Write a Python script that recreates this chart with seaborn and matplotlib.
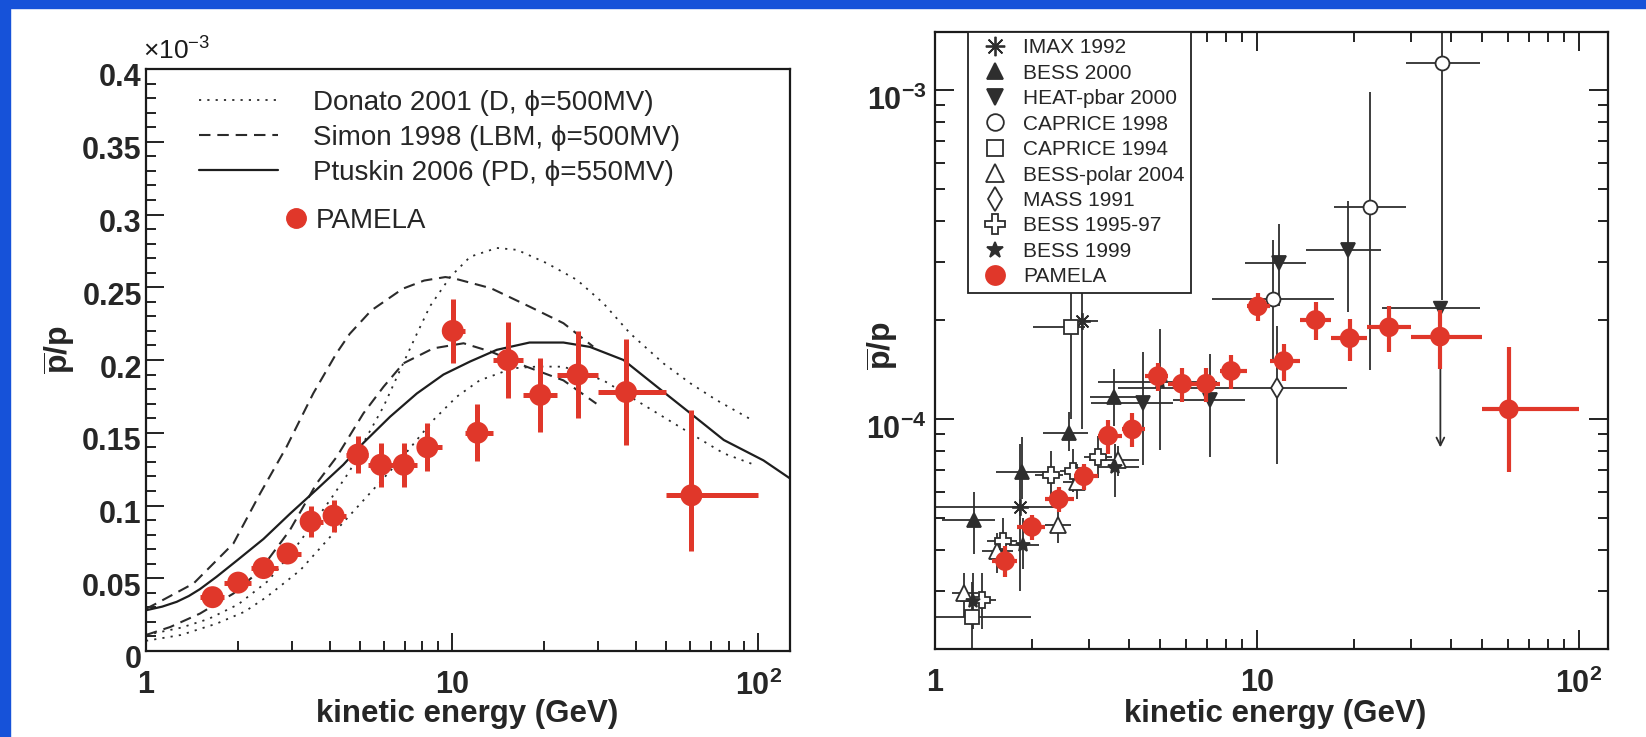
import numpy as np
import matplotlib
matplotlib.use('Agg')
import matplotlib.pyplot as plt
import seaborn as sns
from matplotlib.lines import Line2D
from matplotlib.patches import Rectangle
from matplotlib.transforms import ScaledTranslation
from matplotlib.ticker import FixedLocator, FixedFormatter, LogLocator, NullFormatter

# ---------------- data ----------------
# PAMELA pbar/p, energies in GeV, ratio in units of 1e-3
pam_E = [1.65, 2.0, 2.42, 2.9, 3.45, 4.1, 4.92, 5.85, 6.95, 8.3, 10.05, 12.1, 15.2, 19.4, 25.7, 37.0, 60.5]
pam_ratio = [0.037, 0.047, 0.057, 0.067, 0.089, 0.093, 0.135, 0.128, 0.128, 0.140, 0.220, 0.150, 0.200, 0.176, 0.190, 0.178, 0.107]
pam_err_up = [0.004, 0.004, 0.005, 0.006, 0.0105, 0.011, 0.013, 0.015, 0.015, 0.0165, 0.022, 0.0195, 0.026, 0.0255, 0.030, 0.0365, 0.0585]
pam_err_lo = [0.004, 0.004, 0.005, 0.006, 0.0105, 0.011, 0.013, 0.015, 0.015, 0.0165, 0.022, 0.0195, 0.026, 0.0255, 0.030, 0.0365, 0.038]
pam_bin_lo = [1.5, 1.8, 2.2, 2.7, 3.2, 3.8, 4.5, 5.3, 6.4, 7.7, 9.3, 11.0, 13.6, 17.0, 22.0, 30.0, 50.0]
pam_bin_hi = [1.8, 2.2, 2.7, 3.2, 3.8, 4.5, 5.3, 6.4, 7.7, 9.3, 11.0, 13.6, 17.0, 22.0, 30.0, 50.0, 100.0]

# model curves (x1e-3)
ptuskin_E = [1.0, 1.13, 1.26, 1.38, 1.5, 1.7, 1.99, 2.42, 2.96, 3.61, 4.41, 5.13, 6.27, 7.67, 9.37, 11.46, 14.0, 17.9, 23.1, 28.2, 36.3, 46.7, 60.1, 77.2, 104.0, 127.0]
ptuskin_r = [0.028, 0.0305, 0.0338, 0.0378, 0.0425, 0.051, 0.0625, 0.077, 0.0945, 0.111, 0.128, 0.143, 0.161, 0.177, 0.190, 0.199, 0.207, 0.212, 0.212, 0.209, 0.200, 0.1816, 0.1633, 0.145, 0.131, 0.1186]

donato_hi_E = [1.0, 1.3, 1.6, 2.0, 2.5, 3.0, 3.5, 4.0, 4.64, 5.13, 5.97, 6.76, 7.67, 8.47, 9.85, 11.46, 14.0, 16.3, 20.4, 25.6, 31.2, 38.1, 49.0, 60.0, 73.0, 95.5]
donato_hi_r = [0.011, 0.016, 0.022, 0.032, 0.048, 0.068, 0.087, 0.104, 0.124, 0.143, 0.168, 0.193, 0.218, 0.237, 0.257, 0.271, 0.277, 0.2757, 0.2665, 0.255, 0.239, 0.2184, 0.1977, 0.184, 0.1725, 0.1587]
donato_lo_E = [1.0, 1.3, 1.7, 2.1, 2.48, 3.19, 4.09, 5.26, 6.76, 8.68, 10.36, 12.3, 15.8, 19.0, 23.1, 31.2, 43.1, 60.0, 77.2, 97.7]
donato_lo_r = [0.007, 0.011, 0.0188, 0.027, 0.0372, 0.0555, 0.0808, 0.106, 0.1312, 0.1587, 0.1748, 0.186, 0.1943, 0.1955, 0.1954, 0.186, 0.168, 0.1496, 0.1358, 0.1278]

simon_hi_E = [1.0, 1.08, 1.43, 1.93, 2.36, 2.88, 3.52, 4.19, 4.63, 5.44, 6.9, 8.1, 9.5, 10.1, 13.4, 17.9, 23.1, 28.9]
simon_hi_r = [0.029, 0.0326, 0.0464, 0.0739, 0.1083, 0.1404, 0.1771, 0.2046, 0.218, 0.234, 0.249, 0.2546, 0.257, 0.2562, 0.2493, 0.2367, 0.2253, 0.2092]
simon_lo_E = [1.0, 1.2, 1.5, 1.93, 2.36, 2.95, 3.61, 4.2, 5.13, 5.97, 6.93, 8.68, 10.9, 13.4, 17.5, 23.1, 29.6]
simon_lo_r = [0.011, 0.0165, 0.0257, 0.0395, 0.0555, 0.083, 0.1152, 0.1335, 0.1633, 0.1816, 0.1977, 0.208, 0.2115, 0.2057, 0.1954, 0.186, 0.170]

# other experiments (absolute ratio)
imax_E = [1.83, 2.855]
imax_r = [5.4e-5, 1.99e-4]
imax_Elo, imax_Ehi = [0.9, 2.55], [2.41, 3.2]
imax_rlo, imax_rhi = [3.0e-5, 0.93e-4], [8.4e-5, 3.4e-4]

bess00_E = [1.325, 1.86, 2.61, 3.6]
bess00_r = [4.94e-5, 6.92e-5, 9.05e-5, 1.169e-4]
bess00_Elo, bess00_Ehi = [1.05, 1.55, 2.17, 3.03], [1.54, 2.25, 2.99, 4.28]
bess00_rlo, bess00_rhi = [3.9e-5, 5.7e-5, 8.0e-5, 9.5e-5], [6.0e-5, 8.8e-5, 1.05e-4, 1.42e-4]

heat_E = [4.43, 7.14, 11.66, 19.2]
heat_r = [1.116e-4, 1.14e-4, 2.97e-4, 3.26e-4]
heat_Elo, heat_Ehi = [3.06, 5.5, 9.18, 14.2], [5.5, 9.2, 14.2, 24.3]
heat_rlo, heat_rhi = [0.725e-4, 0.768e-4, 2.2e-4, 2.12e-4], [1.6e-4, 1.58e-4, 3.92e-4, 4.6e-4]
heat_lim_E, heat_lim_r = [37.1], [2.17e-4]
heat_lim_Elo, heat_lim_Ehi, heat_lim_end = [24.4], [49.4], [0.82e-4]

caprice98_E = [11.2, 22.4, 37.6]
caprice98_r = [2.32e-4, 4.4e-4, 1.21e-3]
caprice98_Elo, caprice98_Ehi = [7.23, 17.3, 29.0], [17.3, 29.0, 49.4]
caprice98_rlo, caprice98_rhi = [1.5e-4, 1.41e-4, 2.3e-4], [3.5e-4, 9.84e-4, 2.5e-3]

caprice94_E = [1.30, 2.64]
caprice94_r = [2.51e-5, 1.906e-4]
caprice94_Elo, caprice94_Ehi = [0.9, 2.02], [1.99, 2.92]
caprice94_rlo, caprice94_rhi = [1.9e-5, 1.0e-4], [3.2e-5, 3.5e-4]

bpolar_E = [1.233, 1.555, 2.41, 2.76, 3.71]
bpolar_r = [2.96e-5, 3.96e-5, 4.77e-5, 6.45e-5, 7.51e-5]
bpolar_Elo, bpolar_Ehi = [1.13, 1.4, 2.2, 2.5, 3.0], [1.36, 1.75, 2.65, 3.05, 4.3]
bpolar_rlo, bpolar_rhi = [2.5e-5, 3.4e-5, 4.2e-5, 5.7e-5, 6.7e-5], [3.4e-5, 4.5e-5, 5.3e-5, 7.3e-5, 8.3e-5]

mass_E, mass_r = [11.5], [1.24e-4]
mass_Elo, mass_Ehi = [3.7], [19.0]
mass_rlo, mass_rhi = [0.73e-4], [1.92e-4]

bess9597_E = [1.397, 1.63, 2.30, 2.69, 3.21]
bess9597_r = [2.82e-5, 4.26e-5, 6.75e-5, 6.97e-5, 7.69e-5]
bess9597_Elo, bess9597_Ehi = [1.25, 1.45, 2.05, 2.45, 2.9], [1.55, 1.8, 2.5, 2.95, 3.55]
bess9597_rlo, bess9597_rhi = [2.3e-5, 3.6e-5, 5.7e-5, 6.0e-5, 6.6e-5], [3.4e-5, 5.0e-5, 8.0e-5, 8.1e-5, 8.9e-5]

bess99_E = [1.315, 1.88, 3.62, 5.0]
bess99_r = [2.79e-5, 4.15e-5, 7.17e-5, 1.30e-4]
bess99_Elo, bess99_Ehi = [1.2, 1.7, 3.2, 3.2], [1.45, 2.1, 4.3, 7.5]
bess99_rlo, bess99_rhi = [2.3e-5, 3.5e-5, 5.8e-5, 0.805e-4], [3.4e-5, 5.0e-5, 8.4e-5, 1.88e-4]

left_yticks = [0, 0.05, 0.1, 0.15, 0.2, 0.25, 0.3, 0.35, 0.4]
left_ytick_labels = ['0', '0.05', '0.1', '0.15', '0.2', '0.25', '0.3', '0.35', '0.4']
xticks = [1, 10, 100]
xtick_labels = ['1', '10', r'$\mathbf{10^{2}}$']
right_yticks = [1e-4, 1e-3]
right_ytick_labels = [r'$\mathbf{10^{-4}}$', r'$\mathbf{10^{-3}}$']

model_labels = ['Donato 2001 (D, ϕ=500MV)', 'Simon 1998 (LBM, ϕ=500MV)', 'Ptuskin 2006 (PD, ϕ=550MV)']

# ---------------- style ----------------
sns.set_theme(style='ticks')
plt.rcParams['font.family'] = ['Liberation Sans', 'DejaVu Sans']
plt.rcParams['mathtext.fontset'] = 'custom'
plt.rcParams['mathtext.rm'] = 'Liberation Sans'
plt.rcParams['mathtext.bf'] = 'Liberation Sans:bold'
plt.rcParams['mathtext.it'] = 'Liberation Sans:italic'

RED = '#e0372a'
CURVE = '#2b2b2b'
BAR = '#2e2e2e'

fig = plt.figure(figsize=(16.46, 7.37), dpi=100)
fig.patch.set_facecolor('white')
# slide frame (blue strips on top/left)
fig.patches.append(Rectangle((0, 0), 10 / 1646, 1, transform=fig.transFigure, color='#1652d9', zorder=0))
fig.patches.append(Rectangle((0, 1 - 8 / 737), 1, 8 / 737, transform=fig.transFigure, color='#1652d9', zorder=0))

ax1 = fig.add_axes([146 / 1646, 86 / 737, 644 / 1646, 582 / 737])
ax2 = fig.add_axes([935 / 1646, 88 / 737, 673 / 1646, 617 / 737])

# ---------------- left panel ----------------
ax1.set_xscale('log')
dot_style = (0, (1.2, 3.4))
dash_style = (0, (5.5, 3.3))
for E, r in [(donato_hi_E, donato_hi_r), (donato_lo_E, donato_lo_r)]:
    sns.lineplot(x=E, y=r, ax=ax1, color=CURVE, linestyle=dot_style, linewidth=1.3,
                 sort=False, estimator=None)
for E, r in [(simon_hi_E, simon_hi_r), (simon_lo_E, simon_lo_r)]:
    sns.lineplot(x=E, y=r, ax=ax1, color=CURVE, linestyle=dash_style, linewidth=1.5,
                 sort=False, estimator=None)
sns.lineplot(x=ptuskin_E, y=ptuskin_r, ax=ax1, color='#1e1e1e', linewidth=1.6,
             sort=False, estimator=None)

pE = np.array(pam_E)
ax1.errorbar(pam_E, pam_ratio,
             xerr=[pE - np.array(pam_bin_lo), np.array(pam_bin_hi) - pE],
             yerr=[pam_err_lo, pam_err_up], fmt='none', ecolor=RED, elinewidth=3.6,
             capsize=0, zorder=4)
sns.scatterplot(x=pam_E, y=pam_ratio, ax=ax1, color=RED, s=250, edgecolor='none',
                zorder=5)

ax1.set_xlim(1, 127)
ax1.set_ylim(0, 0.4)
ax1.yaxis.set_major_locator(FixedLocator(left_yticks))
ax1.yaxis.set_major_formatter(FixedFormatter(left_ytick_labels))
ax1.yaxis.set_minor_locator(FixedLocator(np.arange(0, 0.401, 0.01)))
ax1.xaxis.set_major_locator(FixedLocator(xticks))
ax1.xaxis.set_major_formatter(FixedFormatter(xtick_labels))
ax1.xaxis.set_minor_locator(LogLocator(base=10, subs=np.arange(2, 10)))
ax1.xaxis.set_minor_formatter(NullFormatter())
ax1.tick_params(axis='both', which='both', direction='in', top=False, right=False,
                width=1.4, color='#222222')
ax1.tick_params(axis='both', which='major', length=13)
ax1.tick_params(axis='both', which='minor', length=7)
ax1.tick_params(axis='y', which='major', pad=3, labelsize=22)
ax1.tick_params(axis='x', which='major', pad=14, labelsize=22)
for lab in ax1.get_xticklabels() + ax1.get_yticklabels():
    lab.set_fontweight('bold')
# ROOT-style: y labels sit a little below their ticks
for lab in ax1.get_yticklabels():
    lab.set_transform(lab.get_transform() + ScaledTranslation(0, -0.06, fig.dpi_scale_trans))

ax1.text(-0.004, 1.0155, r'$\times$10$^{-3}$', transform=ax1.transAxes, fontsize=19,
         ha='left', va='baseline', color='#1a1a1a')

legend1_handles = [
    Line2D([], [], color=CURVE, linestyle=dot_style, linewidth=1.3),
    Line2D([], [], color=CURVE, linestyle=dash_style, linewidth=1.5),
    Line2D([], [], color='#1e1e1e', linewidth=1.6),
]
leg1 = ax1.legend(legend1_handles, model_labels, loc='upper left', bbox_to_anchor=(0.082, 0.964),
                  frameon=False, fontsize=20, handlelength=2.85, handletextpad=1.25,
                  labelspacing=0.32, borderpad=0, borderaxespad=0)
ax1.add_artist(leg1)
ax1.legend([Line2D([], [], color=RED, marker='o', linestyle='none', markersize=14)], ['PAMELA'],
           loc='upper left', bbox_to_anchor=(0.214, 0.761), frameon=False, fontsize=20,
           handlelength=0.9, handletextpad=0.25, borderpad=0, borderaxespad=0)

# ---------------- right panel ----------------
ax2.set_xscale('log')
ax2.set_yscale('log')

experiments = [
    ('IMAX 1992', imax_E, imax_r, imax_Elo, imax_Ehi, imax_rlo, imax_rhi, (8, 2, 0), BAR, 12),
    ('BESS 2000', bess00_E, bess00_r, bess00_Elo, bess00_Ehi, bess00_rlo, bess00_rhi, '^', BAR, 10),
    ('HEAT-pbar 2000', heat_E, heat_r, heat_Elo, heat_Ehi, heat_rlo, heat_rhi, 'v', BAR, 10),
    ('CAPRICE 1998', caprice98_E, caprice98_r, caprice98_Elo, caprice98_Ehi, caprice98_rlo, caprice98_rhi, 'o', 'white', 10),
    ('CAPRICE 1994', caprice94_E, caprice94_r, caprice94_Elo, caprice94_Ehi, caprice94_rlo, caprice94_rhi, 's', 'white', 10),
    ('BESS-polar 2004', bpolar_E, bpolar_r, bpolar_Elo, bpolar_Ehi, bpolar_rlo, bpolar_rhi, '^', 'white', 11),
    ('MASS 1991', mass_E, mass_r, mass_Elo, mass_Ehi, mass_rlo, mass_rhi, 'd', 'white', 10),
    ('BESS 1995-97', bess9597_E, bess9597_r, bess9597_Elo, bess9597_Ehi, bess9597_rlo, bess9597_rhi, 'P', 'white', 12),
    ('BESS 1999', bess99_E, bess99_r, bess99_Elo, bess99_Ehi, bess99_rlo, bess99_rhi, '*', BAR, 10),
]

legend2_handles, legend2_labels = [], []
for name, E, r, Elo, Ehi, rlo, rhi, mk, face, ms in experiments:
    E, r = np.array(E), np.array(r)
    ax2.errorbar(E, r, xerr=[E - np.array(Elo), np.array(Ehi) - E],
                 yerr=[r - np.array(rlo), np.array(rhi) - r],
                 fmt='none', ecolor=BAR, elinewidth=1.3, capsize=0, zorder=2)
    ax2.plot(E, r, linestyle='none', marker=mk, markersize=ms, markerfacecolor=face,
             markeredgecolor=BAR, markeredgewidth=1.3, color=BAR, zorder=3)
    legend2_handles.append(Line2D([], [], linestyle='none', marker=mk, markersize=ms + 2,
                                  markerfacecolor=face, markeredgecolor=BAR,
                                  markeredgewidth=1.3, color=BAR))
    legend2_labels.append(name)

# HEAT upper limit
hE, hr = np.array(heat_lim_E), np.array(heat_lim_r)
ax2.errorbar(hE, hr, xerr=[hE - np.array(heat_lim_Elo), np.array(heat_lim_Ehi) - hE],
             fmt='v', color=BAR, ms=10, elinewidth=1.3, capsize=0, zorder=3)
for x0, y0, y1 in zip(heat_lim_E, heat_lim_r, heat_lim_end):
    ax2.annotate('', xy=(x0, y1), xytext=(x0, y0),
                 arrowprops=dict(arrowstyle='->', color=BAR, lw=1.3,
                                 mutation_scale=14, shrinkA=0, shrinkB=0), zorder=2)

pam_abs = np.array(pam_ratio) * 1e-3
ax2.errorbar(pE, pam_abs,
             xerr=[pE - np.array(pam_bin_lo), np.array(pam_bin_hi) - pE],
             yerr=[np.array(pam_err_lo) * 1e-3, np.array(pam_err_up) * 1e-3],
             fmt='none', ecolor=RED, elinewidth=3.0, capsize=0, zorder=4)
sns.scatterplot(x=pam_E, y=pam_abs, ax=ax2, color=RED, s=200, edgecolor='none', zorder=5)
legend2_handles.append(Line2D([], [], linestyle='none', marker='o', markersize=15,
                              color=RED, markeredgecolor='none'))
legend2_labels.append('PAMELA')

ax2.set_xlim(1, 123)
ax2.set_ylim(2e-5, 1.5e-3)
ax2.xaxis.set_major_locator(FixedLocator(xticks))
ax2.xaxis.set_major_formatter(FixedFormatter(xtick_labels))
ax2.xaxis.set_minor_locator(LogLocator(base=10, subs=np.arange(2, 10)))
ax2.xaxis.set_minor_formatter(NullFormatter())
ax2.yaxis.set_major_locator(FixedLocator(right_yticks))
ax2.yaxis.set_major_formatter(FixedFormatter(right_ytick_labels))
ax2.yaxis.set_minor_locator(LogLocator(base=10, subs=np.arange(2, 10)))
ax2.yaxis.set_minor_formatter(NullFormatter())
ax2.tick_params(axis='both', which='both', direction='in', top=True, right=True,
                width=1.4, color='#222222')
ax2.tick_params(axis='both', which='major', length=14)
ax2.tick_params(axis='both', which='minor', length=7)
ax2.tick_params(axis='y', which='major', pad=6, labelsize=22)
ax2.tick_params(axis='x', which='major', pad=14, labelsize=22)
for lab in ax2.get_xticklabels() + ax2.get_yticklabels():
    lab.set_fontweight('bold')
for lab in ax2.get_yticklabels():
    lab.set_transform(lab.get_transform() + ScaledTranslation(0, -0.08, fig.dpi_scale_trans))

leg2 = ax2.legend(legend2_handles, legend2_labels, loc='upper left',
                  bbox_to_anchor=(0.049, 1.0), borderaxespad=0, fontsize=15,
                  frameon=True, fancybox=False, framealpha=1, edgecolor='#222222',
                  handlelength=2.0, handletextpad=0.35, labelspacing=0.31,
                  borderpad=0.3)
leg2.get_frame().set_linewidth(1.3)
leg2.set_zorder(10)

# ---------------- common axis decoration ----------------
for ax, xlab_x, xlab_y, ylab_x, ylab_y in [(ax1, 0.498, -0.0825, -0.106, 0.517),
                                          (ax2, 0.505, -0.0815, -0.051, 0.491)]:
    for sp in ax.spines.values():
        sp.set_linewidth(1.6)
        sp.set_color('#1a1a1a')
    ax.set_xlabel('kinetic energy (GeV)', fontsize=22.5, fontweight='bold')
    ax.set_ylabel(r'$\mathbf{\overline{p}/p}$', fontsize=23)
    ax.xaxis.set_label_coords(xlab_x, xlab_y)
    ax.yaxis.set_label_coords(ylab_x, ylab_y)
    ax.set_facecolor('white')

plt.savefig('out.png', dpi=100, facecolor='white')
plt.close('all')
